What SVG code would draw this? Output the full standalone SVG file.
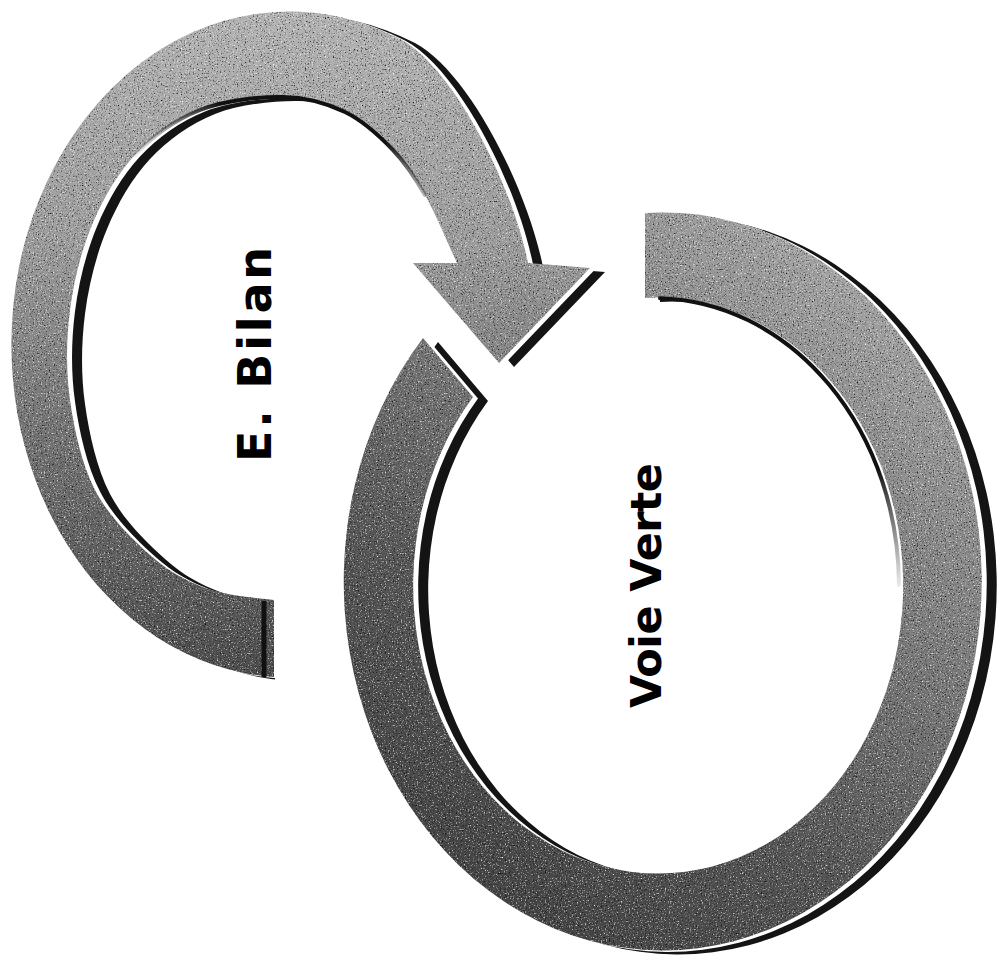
<svg xmlns="http://www.w3.org/2000/svg" xmlns:xlink="http://www.w3.org/1999/xlink" width="997" height="957" viewBox="0 0 997 957">
  <style>
    .bevel { fill: #141414; }
    .gap { fill: #ffffff; }
    .edge { fill: none; stroke-width: 4; stroke-linecap: round; }
    .label { font-family: "DejaVu Sans", "Liberation Sans", sans-serif; font-weight: bold; fill: #000000; }
  </style>
  <defs>
    <linearGradient id="gradA" gradientUnits="userSpaceOnUse" x1="0" y1="0" x2="0" y2="690">
      <stop offset="0" stop-color="#b4b4b4"/>
      <stop offset="0.35" stop-color="#9c9c9c"/>
      <stop offset="0.62" stop-color="#747474"/>
      <stop offset="1" stop-color="#4a4a4a"/>
    </linearGradient>
    <linearGradient id="gradB" gradientUnits="userSpaceOnUse" x1="900" y1="250" x2="450" y2="900">
      <stop offset="0" stop-color="#aaaaaa"/>
      <stop offset="0.4" stop-color="#7a7a7a"/>
      <stop offset="0.7" stop-color="#555555"/>
      <stop offset="1" stop-color="#424242"/>
    </linearGradient>
    <linearGradient id="edgeB" gradientUnits="userSpaceOnUse" x1="660" y1="298" x2="897" y2="600">
      <stop offset="0" stop-color="#111111" stop-opacity="1"/>
      <stop offset="0.7" stop-color="#111111" stop-opacity="1"/>
      <stop offset="1" stop-color="#111111" stop-opacity="0"/>
    </linearGradient>
    <linearGradient id="edgeA" gradientUnits="userSpaceOnUse" x1="430" y1="0" x2="130" y2="0">
      <stop offset="0" stop-color="#111111" stop-opacity="0.2"/>
      <stop offset="0.15" stop-color="#111111" stop-opacity="1"/>
      <stop offset="0.7" stop-color="#111111" stop-opacity="1"/>
      <stop offset="1" stop-color="#111111" stop-opacity="0"/>
    </linearGradient>
    <filter id="grain" color-interpolation-filters="sRGB">
      <feTurbulence type="fractalNoise" baseFrequency="0.75" numOctaves="2" seed="4" result="n"/>
      <feColorMatrix in="n" type="matrix" values="0 0 0 0 0  0 0 0 0 0  0 0 0 0 0  3 0 0 0 -1.75" result="blk0"/>
      <feColorMatrix in="n" type="matrix" values="0 0 0 0 1  0 0 0 0 1  0 0 0 0 1  -3 0 0 0 1.25" result="wht0"/>
      <feComposite in="blk0" in2="SourceGraphic" operator="in" result="blk"/>
      <feComposite in="wht0" in2="SourceGraphic" operator="in" result="wht"/>
      <feMerge>
        <feMergeNode in="SourceGraphic"/>
        <feMergeNode in="blk"/>
        <feMergeNode in="wht"/>
      </feMerge>
    </filter>
    <path id="ringShape" d="M 645 213 A 319 369 0 1 1 423 338 L 473 397 A 245 288 0 1 0 645 298 Z"/>
    <path id="arrowShape" d="M 274 677 A 278 333 0 1 1 400 39 C 453 67 512 183 528 263 L 590 268 L 499 363 L 413 263 L 457 263 C 451.7 251.7 435.7 213.8 425 195 C 414.3 176.2 406.3 163.8 393 150 C 379.7 136.2 363.3 120.8 345 112 C 326.7 103.2 307.2 97.3 283 97 C 258.8 96.7 224.7 100.3 200 110 C 175.3 119.7 153 135.8 135 155 C 117 174.2 102.8 199.2 92 225 C 81.2 250.8 73.7 280.8 70 310 C 66.3 339.2 65.8 370 70 400 C 74.2 430 81.7 464.2 95 490 C 108.3 515.8 131.7 538.7 150 555 C 168.3 571.3 185.3 580.5 205 588 C 224.7 595.5 257.5 598 274 600 Z"/>
  </defs>

  <rect x="0" y="0" width="997" height="957" fill="#ffffff"/>

  <g id="node-voie-verte">
    <use xlink:href="#ringShape" class="bevel" transform="translate(15,4)"/>
    <use xlink:href="#ringShape" class="gap" transform="translate(5,1.5)"/>
    <use xlink:href="#ringShape" fill="url(#gradB)" filter="url(#grain)"/>
    <path class="edge" stroke="url(#edgeB)" d="M 660 298.2 A 245 288 0 0 1 899 585"/>
    <text class="label" font-size="43" transform="translate(661,708) rotate(-90)" x="0" y="0" textLength="245" lengthAdjust="spacing">Voie Verte</text>
  </g>

  <g id="node-e-bilan">
    <use xlink:href="#arrowShape" class="bevel" transform="translate(15,4)"/>
    <use xlink:href="#arrowShape" class="gap" transform="translate(5,1.5)"/>
    <rect x="275" y="595" width="30" height="95" fill="#ffffff"/>
    <use xlink:href="#arrowShape" fill="url(#gradA)" filter="url(#grain)"/>
    <path class="edge" stroke="url(#edgeA)" d="M 425 195 C 414.3 176.2 406.3 163.8 393 150 C 379.7 136.2 363.3 120.8 345 112 C 326.7 103.2 307.2 97.3 283 97 C 258.8 96.7 224.7 100.3 200 110 C 175.3 119.7 153 135.8 135 155"/>
    <line x1="264" y1="601" x2="264" y2="677" stroke="#111111" stroke-width="5"/>
    <text class="label" font-size="46" transform="translate(271,462) rotate(-90)" x="0" y="0" textLength="215" lengthAdjust="spacing">E. Bilan</text>
  </g>
</svg>
